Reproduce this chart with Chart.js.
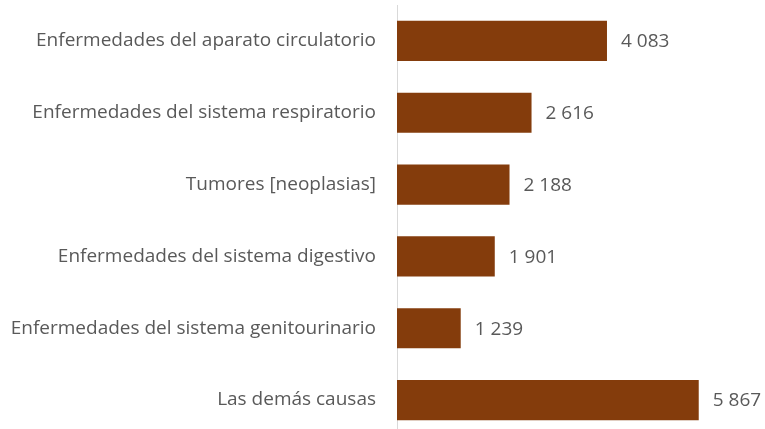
<!DOCTYPE html>
<html lang="es">
<head>
    <meta charset="UTF-8">
    <title>Defunciones por causa</title>
    <script src="https://cdn.jsdelivr.net/npm/chart.js@4/dist/chart.umd.min.js"></script>
    <style>
        html, body { margin: 0; padding: 0; background: #fff; overflow: hidden; }
        .chart-box { position: relative; width: 765px; height: 436px; }
    </style>
</head>
<body>
    <div class="chart-box">
        <canvas id="causasChart"></canvas>
    </div>

    <script>
        const categories = [
            'Enfermedades del aparato circulatorio',
            'Enfermedades del sistema respiratorio',
            'Tumores [neoplasias]',
            'Enfermedades del sistema digestivo',
            'Enfermedades del sistema genitourinario',
            'Las demás causas'
        ];
        const values = [4083, 2616, 2188, 1901, 1239, 5867];

        const textColor = '#595959';
        const fontFamily = "'Open Sans', 'Liberation Sans', sans-serif";

        // space as thousands separator, like the source
        const fmt = (v) => String(v).replace(/\B(?=(\d{3})+(?!\d))/g, ' ');

        const valueLabels = {
            id: 'valueLabels',
            afterDatasetsDraw(chart) {
                const ctx = chart.ctx;
                const meta = chart.getDatasetMeta(0);
                ctx.save();
                ctx.fillStyle = textColor;
                ctx.font = `19px ${fontFamily}`;
                ctx.textAlign = 'left';
                ctx.textBaseline = 'middle';
                meta.data.forEach((bar, i) => {
                    ctx.fillText(fmt(values[i]), bar.x + 14, bar.y + 1);
                });
                ctx.restore();
            }
        };

        new Chart(document.getElementById('causasChart'), {
            type: 'bar',
            data: {
                labels: categories,
                datasets: [{
                    data: values,
                    backgroundColor: '#843C0C',
                    borderWidth: 0,
                    barPercentage: 0.56,
                    categoryPercentage: 1
                }]
            },
            options: {
                indexAxis: 'y',
                responsive: true,
                maintainAspectRatio: false,
                animation: false,
                layout: { padding: { top: 5, bottom: 0, left: 0, right: 8 } },
                plugins: {
                    legend: { display: false },
                    tooltip: { enabled: false }
                },
                scales: {
                    x: {
                        display: false,
                        min: 0,
                        max: 7000
                    },
                    y: {
                        afterFit: (axis) => {
                            axis.width = 397;
                            axis.paddingTop = 0;
                            axis.paddingBottom = 0;
                        },
                        grid: { display: false, drawTicks: false },
                        border: { color: '#d9d9d9', width: 1 },
                        ticks: {
                            color: textColor,
                            padding: 21,
                            font: { size: 19, family: fontFamily }
                        }
                    }
                }
            },
            plugins: [valueLabels]
        });
    </script>
</body>
</html>
